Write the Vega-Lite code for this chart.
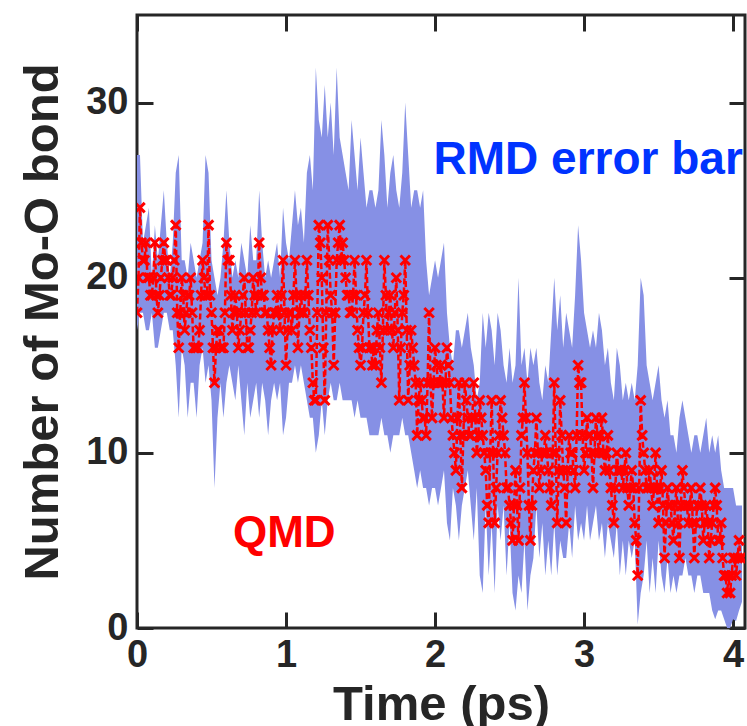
{
  "$schema": "https://vega.github.io/schema/vega-lite/v6.json",
  "width": 608,
  "height": 613,
  "autosize": {"type": "none"},
  "padding": {"left": 137, "top": 15, "right": 2, "bottom": 98},
  "background": "white",
  "config": {
    "view": {"stroke": "#262626", "strokeWidth": 3},
    "axis": {
      "labelFont": "Liberation Sans", "labelFontWeight": "bold", "labelFontSize": 38, "labelColor": "#262626",
      "titleFont": "Liberation Sans", "titleFontWeight": "bold", "titleFontSize": 49, "titleColor": "#262626",
      "tickColor": "#262626", "tickWidth": 3, "tickSize": -16, "domain": false, "grid": false,
      "labelOverlap": false, "labelFlush": false, "zindex": 1
    }
  },
  "datasets": {
    "rmd": [
      {"t":0.00,"lo":17,"hi":27},{"t":0.02,"lo":18,"hi":27},{"t":0.04,"lo":18,"hi":22},{"t":0.06,"lo":17,"hi":23},{"t":0.08,"lo":17,"hi":24},
      {"t":0.10,"lo":18,"hi":20},{"t":0.12,"lo":16,"hi":23},{"t":0.14,"lo":16,"hi":21},{"t":0.16,"lo":17,"hi":23},{"t":0.18,"lo":18,"hi":25},
      {"t":0.20,"lo":18,"hi":22},{"t":0.22,"lo":17,"hi":20},{"t":0.24,"lo":17,"hi":22},{"t":0.26,"lo":15,"hi":26},{"t":0.28,"lo":12,"hi":27},
      {"t":0.30,"lo":16,"hi":21},{"t":0.32,"lo":15,"hi":21},{"t":0.34,"lo":12,"hi":20},{"t":0.36,"lo":14,"hi":22},{"t":0.38,"lo":14,"hi":21},
      {"t":0.40,"lo":12,"hi":20},{"t":0.42,"lo":15,"hi":21},{"t":0.44,"lo":16,"hi":22},{"t":0.46,"lo":14,"hi":27},{"t":0.48,"lo":15,"hi":26},
      {"t":0.50,"lo":13,"hi":21},{"t":0.52,"lo":8,"hi":20},{"t":0.54,"lo":12,"hi":19},{"t":0.56,"lo":14,"hi":20},{"t":0.58,"lo":12,"hi":22},
      {"t":0.60,"lo":14,"hi":25},{"t":0.62,"lo":15,"hi":22},{"t":0.64,"lo":14,"hi":20},{"t":0.66,"lo":13,"hi":21},{"t":0.68,"lo":15,"hi":20},
      {"t":0.70,"lo":13,"hi":22},{"t":0.72,"lo":11,"hi":21},{"t":0.74,"lo":14,"hi":20},{"t":0.76,"lo":12,"hi":23},{"t":0.78,"lo":13,"hi":21},
      {"t":0.80,"lo":14,"hi":21},{"t":0.82,"lo":12,"hi":25},{"t":0.84,"lo":14,"hi":22},{"t":0.86,"lo":13,"hi":20},{"t":0.88,"lo":11,"hi":21},
      {"t":0.90,"lo":13,"hi":20},{"t":0.92,"lo":14,"hi":21},{"t":0.94,"lo":13,"hi":22},{"t":0.96,"lo":14,"hi":20},{"t":0.98,"lo":11,"hi":24},
      {"t":1.00,"lo":12,"hi":22},{"t":1.02,"lo":14,"hi":21},{"t":1.04,"lo":14,"hi":23},{"t":1.06,"lo":15,"hi":25},{"t":1.08,"lo":14,"hi":23},
      {"t":1.10,"lo":15,"hi":24},{"t":1.12,"lo":14,"hi":22},{"t":1.14,"lo":13,"hi":26},{"t":1.16,"lo":12,"hi":27},{"t":1.18,"lo":12,"hi":25},
      {"t":1.20,"lo":10,"hi":32},{"t":1.22,"lo":11,"hi":29},{"t":1.24,"lo":13,"hi":28},{"t":1.26,"lo":11,"hi":31},{"t":1.28,"lo":13,"hi":28},
      {"t":1.30,"lo":14,"hi":30},{"t":1.32,"lo":13,"hi":27},{"t":1.34,"lo":13,"hi":32},{"t":1.36,"lo":14,"hi":28},{"t":1.38,"lo":13,"hi":27},
      {"t":1.40,"lo":13,"hi":26},{"t":1.42,"lo":13,"hi":25},{"t":1.44,"lo":13,"hi":29},{"t":1.46,"lo":12,"hi":27},{"t":1.48,"lo":13,"hi":25},
      {"t":1.50,"lo":12,"hi":28},{"t":1.52,"lo":12,"hi":26},{"t":1.54,"lo":12,"hi":24},{"t":1.56,"lo":11,"hi":25},{"t":1.58,"lo":11,"hi":25},
      {"t":1.60,"lo":11,"hi":24},{"t":1.62,"lo":11,"hi":25},{"t":1.64,"lo":12,"hi":29},{"t":1.66,"lo":11,"hi":27},{"t":1.68,"lo":11,"hi":24},
      {"t":1.70,"lo":10,"hi":26},{"t":1.72,"lo":11,"hi":27},{"t":1.74,"lo":11,"hi":25},{"t":1.76,"lo":11,"hi":24},{"t":1.78,"lo":12,"hi":26},
      {"t":1.80,"lo":11,"hi":30},{"t":1.82,"lo":11,"hi":27},{"t":1.84,"lo":10,"hi":24},{"t":1.86,"lo":9,"hi":25},{"t":1.88,"lo":8,"hi":25},
      {"t":1.90,"lo":9,"hi":24},{"t":1.92,"lo":8,"hi":25},{"t":1.94,"lo":8,"hi":21},{"t":1.96,"lo":7,"hi":19},{"t":1.98,"lo":8,"hi":20},
      {"t":2.00,"lo":8,"hi":21},{"t":2.02,"lo":7,"hi":20},{"t":2.04,"lo":8,"hi":21},{"t":2.06,"lo":9,"hi":22},{"t":2.08,"lo":6,"hi":18},
      {"t":2.10,"lo":5,"hi":16},{"t":2.12,"lo":8,"hi":15},{"t":2.14,"lo":7,"hi":17},{"t":2.16,"lo":5,"hi":17},{"t":2.18,"lo":7,"hi":16},
      {"t":2.20,"lo":8,"hi":17},{"t":2.22,"lo":9,"hi":18},{"t":2.24,"lo":7,"hi":16},{"t":2.26,"lo":5,"hi":15},{"t":2.28,"lo":8,"hi":13},
      {"t":2.30,"lo":3,"hi":14},{"t":2.32,"lo":2,"hi":18},{"t":2.34,"lo":7,"hi":16},{"t":2.36,"lo":3,"hi":18},{"t":2.38,"lo":6,"hi":17},
      {"t":2.40,"lo":2,"hi":15},{"t":2.42,"lo":7,"hi":18},{"t":2.44,"lo":5,"hi":17},{"t":2.46,"lo":7,"hi":15},{"t":2.48,"lo":3,"hi":14},
      {"t":2.50,"lo":6,"hi":16},{"t":2.52,"lo":2,"hi":14},{"t":2.54,"lo":1,"hi":15},{"t":2.56,"lo":3,"hi":20},{"t":2.58,"lo":2,"hi":15},
      {"t":2.60,"lo":5,"hi":16},{"t":2.62,"lo":1,"hi":14},{"t":2.64,"lo":3,"hi":16},{"t":2.66,"lo":4,"hi":15},{"t":2.68,"lo":7,"hi":16},
      {"t":2.70,"lo":4,"hi":14},{"t":2.72,"lo":6,"hi":13},{"t":2.74,"lo":3,"hi":15},{"t":2.76,"lo":5,"hi":14},{"t":2.78,"lo":3,"hi":17},
      {"t":2.80,"lo":6,"hi":20},{"t":2.82,"lo":3,"hi":17},{"t":2.84,"lo":5,"hi":19},{"t":2.86,"lo":4,"hi":16},{"t":2.88,"lo":4,"hi":18},
      {"t":2.90,"lo":6,"hi":17},{"t":2.92,"lo":4,"hi":16},{"t":2.94,"lo":7,"hi":19},{"t":2.96,"lo":5,"hi":23},{"t":2.98,"lo":6,"hi":21},
      {"t":3.00,"lo":5,"hi":18},{"t":3.02,"lo":7,"hi":17},{"t":3.04,"lo":5,"hi":16},{"t":3.06,"lo":6,"hi":17},{"t":3.08,"lo":7,"hi":16},
      {"t":3.10,"lo":5,"hi":18},{"t":3.12,"lo":6,"hi":17},{"t":3.14,"lo":4,"hi":15},{"t":3.16,"lo":6,"hi":16},{"t":3.18,"lo":5,"hi":14},
      {"t":3.20,"lo":4,"hi":13},{"t":3.22,"lo":6,"hi":16},{"t":3.24,"lo":3,"hi":15},{"t":3.26,"lo":5,"hi":13},{"t":3.28,"lo":3,"hi":14},
      {"t":3.30,"lo":5,"hi":13},{"t":3.32,"lo":4,"hi":14},{"t":3.34,"lo":5,"hi":13},{"t":3.36,"lo":0.2,"hi":15},{"t":3.38,"lo":2,"hi":20},
      {"t":3.40,"lo":3,"hi":19},{"t":3.42,"lo":5,"hi":15},{"t":3.44,"lo":2,"hi":14},{"t":3.46,"lo":4,"hi":13},{"t":3.48,"lo":2,"hi":14},
      {"t":3.50,"lo":5,"hi":15},{"t":3.52,"lo":3,"hi":13},{"t":3.54,"lo":2,"hi":12},{"t":3.56,"lo":4,"hi":13},{"t":3.58,"lo":2,"hi":11},
      {"t":3.60,"lo":3,"hi":11},{"t":3.62,"lo":2,"hi":10},{"t":3.64,"lo":3,"hi":12},{"t":3.66,"lo":3,"hi":13},{"t":3.68,"lo":4,"hi":12},
      {"t":3.70,"lo":3,"hi":11},{"t":3.72,"lo":3,"hi":10},{"t":3.74,"lo":2,"hi":11},{"t":3.76,"lo":3,"hi":11},{"t":3.78,"lo":3,"hi":10},
      {"t":3.80,"lo":2,"hi":11},{"t":3.82,"lo":2,"hi":12},{"t":3.84,"lo":2,"hi":10},{"t":3.86,"lo":1,"hi":11},{"t":3.88,"lo":0.5,"hi":10},
      {"t":3.90,"lo":1,"hi":11},{"t":3.92,"lo":1,"hi":9},{"t":3.94,"lo":0.5,"hi":8},{"t":3.96,"lo":0,"hi":8},{"t":3.98,"lo":0,"hi":8},
      {"t":4.00,"lo":0.5,"hi":8},{"t":4.02,"lo":0.4,"hi":7},{"t":4.04,"lo":1,"hi":7},{"t":4.06,"lo":1.5,"hi":7}
    ],
    "qmd": [
      {"t":0.00,"q":18},{"t":0.01,"q":20},{"t":0.02,"q":24},{"t":0.03,"q":22},{"t":0.04,"q":21},{"t":0.05,"q":21},{"t":0.06,"q":22},{"t":0.07,"q":20},{"t":0.08,"q":20},{"t":0.09,"q":19},
      {"t":0.10,"q":19},{"t":0.11,"q":20},{"t":0.12,"q":22},{"t":0.13,"q":19},{"t":0.14,"q":18},{"t":0.15,"q":19},{"t":0.16,"q":20},{"t":0.17,"q":21},{"t":0.18,"q":22},{"t":0.19,"q":21},
      {"t":0.20,"q":21},{"t":0.21,"q":20},{"t":0.22,"q":19},{"t":0.23,"q":19},{"t":0.24,"q":20},{"t":0.25,"q":21},{"t":0.26,"q":23},{"t":0.27,"q":18},{"t":0.28,"q":16},{"t":0.29,"q":18},
      {"t":0.30,"q":20},{"t":0.31,"q":19},{"t":0.32,"q":17},{"t":0.33,"q":18},{"t":0.34,"q":19},{"t":0.35,"q":19},{"t":0.36,"q":20},{"t":0.37,"q":18},{"t":0.38,"q":16},{"t":0.39,"q":16},
      {"t":0.40,"q":16},{"t":0.41,"q":16},{"t":0.42,"q":17},{"t":0.43,"q":19},{"t":0.44,"q":21},{"t":0.45,"q":20},{"t":0.46,"q":19},{"t":0.47,"q":19},{"t":0.48,"q":23},{"t":0.49,"q":19},
      {"t":0.50,"q":18},{"t":0.51,"q":16},{"t":0.52,"q":14},{"t":0.53,"q":16},{"t":0.54,"q":17},{"t":0.55,"q":17},{"t":0.56,"q":16},{"t":0.57,"q":16},{"t":0.58,"q":16},{"t":0.59,"q":18},
      {"t":0.60,"q":22},{"t":0.61,"q":21},{"t":0.62,"q":21},{"t":0.63,"q":19},{"t":0.64,"q":17},{"t":0.65,"q":18},{"t":0.66,"q":19},{"t":0.67,"q":18},{"t":0.68,"q":16},{"t":0.69,"q":17},
      {"t":0.70,"q":18},{"t":0.71,"q":19},{"t":0.72,"q":20},{"t":0.73,"q":18},{"t":0.74,"q":16},{"t":0.75,"q":16},{"t":0.76,"q":17},{"t":0.77,"q":18},{"t":0.78,"q":20},{"t":0.79,"q":19},
      {"t":0.80,"q":18},{"t":0.81,"q":19},{"t":0.82,"q":22},{"t":0.83,"q":20},{"t":0.84,"q":19},{"t":0.85,"q":19},{"t":0.86,"q":18},{"t":0.87,"q":18},{"t":0.88,"q":17},{"t":0.89,"q":16},
      {"t":0.90,"q":15},{"t":0.91,"q":17},{"t":0.92,"q":18},{"t":0.93,"q":18},{"t":0.94,"q":19},{"t":0.95,"q":18},{"t":0.96,"q":17},{"t":0.97,"q":19},{"t":0.98,"q":21},{"t":0.99,"q":18},
      {"t":1.00,"q":15},{"t":1.01,"q":17},{"t":1.02,"q":18},{"t":1.03,"q":18},{"t":1.04,"q":17},{"t":1.05,"q":19},{"t":1.06,"q":21},{"t":1.07,"q":19},{"t":1.08,"q":16},{"t":1.09,"q":18},
      {"t":1.10,"q":19},{"t":1.11,"q":18},{"t":1.12,"q":18},{"t":1.13,"q":19},{"t":1.14,"q":21},{"t":1.15,"q":19},{"t":1.16,"q":17},{"t":1.17,"q":16},{"t":1.18,"q":14},{"t":1.19,"q":13},
      {"t":1.20,"q":13},{"t":1.21,"q":18},{"t":1.22,"q":23},{"t":1.23,"q":22},{"t":1.24,"q":20},{"t":1.25,"q":16},{"t":1.26,"q":13},{"t":1.27,"q":18},{"t":1.28,"q":23},{"t":1.29,"q":21},
      {"t":1.30,"q":19},{"t":1.31,"q":18},{"t":1.32,"q":15},{"t":1.33,"q":18},{"t":1.34,"q":21},{"t":1.35,"q":22},{"t":1.36,"q":23},{"t":1.37,"q":21},{"t":1.38,"q":22},{"t":1.39,"q":21},
      {"t":1.40,"q":20},{"t":1.41,"q":19},{"t":1.42,"q":19},{"t":1.43,"q":18},{"t":1.44,"q":18},{"t":1.45,"q":19},{"t":1.46,"q":21},{"t":1.47,"q":19},{"t":1.48,"q":17},{"t":1.49,"q":16},
      {"t":1.50,"q":15},{"t":1.51,"q":16},{"t":1.52,"q":18},{"t":1.53,"q":19},{"t":1.54,"q":21},{"t":1.55,"q":18},{"t":1.56,"q":16},{"t":1.57,"q":16},{"t":1.58,"q":15},{"t":1.59,"q":16},
      {"t":1.60,"q":15},{"t":1.61,"q":17},{"t":1.62,"q":18},{"t":1.63,"q":16},{"t":1.64,"q":14},{"t":1.65,"q":17},{"t":1.66,"q":21},{"t":1.67,"q":19},{"t":1.68,"q":17},{"t":1.69,"q":18},
      {"t":1.70,"q":19},{"t":1.71,"q":17},{"t":1.72,"q":16},{"t":1.73,"q":18},{"t":1.74,"q":20},{"t":1.75,"q":17},{"t":1.76,"q":13},{"t":1.77,"q":16},{"t":1.78,"q":18},{"t":1.79,"q":19},
      {"t":1.80,"q":21},{"t":1.81,"q":17},{"t":1.82,"q":13},{"t":1.83,"q":15},{"t":1.84,"q":17},{"t":1.85,"q":16},{"t":1.86,"q":15},{"t":1.87,"q":14},{"t":1.88,"q":11},{"t":1.89,"q":13},
      {"t":1.90,"q":14},{"t":1.91,"q":13},{"t":1.92,"q":12},{"t":1.93,"q":12},{"t":1.94,"q":11},{"t":1.95,"q":14},{"t":1.96,"q":18},{"t":1.97,"q":14},{"t":1.98,"q":12},{"t":1.99,"q":14},
      {"t":2.00,"q":16},{"t":2.01,"q":15},{"t":2.02,"q":14},{"t":2.03,"q":14},{"t":2.04,"q":15},{"t":2.05,"q":14},{"t":2.06,"q":12},{"t":2.07,"q":14},{"t":2.08,"q":16},{"t":2.09,"q":15},
      {"t":2.10,"q":14},{"t":2.11,"q":12},{"t":2.12,"q":11},{"t":2.13,"q":10},{"t":2.14,"q":9},{"t":2.15,"q":12},{"t":2.16,"q":14},{"t":2.17,"q":11},{"t":2.18,"q":8},{"t":2.19,"q":11},
      {"t":2.20,"q":14},{"t":2.21,"q":13},{"t":2.22,"q":12},{"t":2.23,"q":11},{"t":2.24,"q":11},{"t":2.25,"q":12},{"t":2.26,"q":14},{"t":2.27,"q":12},{"t":2.28,"q":10},{"t":2.29,"q":11},
      {"t":2.30,"q":13},{"t":2.31,"q":12},{"t":2.32,"q":11},{"t":2.33,"q":10},{"t":2.34,"q":9},{"t":2.35,"q":7},{"t":2.36,"q":6},{"t":2.37,"q":10},{"t":2.38,"q":13},{"t":2.39,"q":10},
      {"t":2.40,"q":6},{"t":2.41,"q":8},{"t":2.42,"q":10},{"t":2.43,"q":11},{"t":2.44,"q":13},{"t":2.45,"q":12},{"t":2.46,"q":11},{"t":2.47,"q":10},{"t":2.48,"q":8},{"t":2.49,"q":8},
      {"t":2.50,"q":7},{"t":2.51,"q":6},{"t":2.52,"q":5},{"t":2.53,"q":7},{"t":2.54,"q":9},{"t":2.55,"q":7},{"t":2.56,"q":5},{"t":2.57,"q":8},{"t":2.58,"q":11},{"t":2.59,"q":12},
      {"t":2.60,"q":14},{"t":2.61,"q":12},{"t":2.62,"q":10},{"t":2.63,"q":7},{"t":2.64,"q":5},{"t":2.65,"q":7},{"t":2.66,"q":9},{"t":2.67,"q":10},{"t":2.68,"q":12},{"t":2.69,"q":10},
      {"t":2.70,"q":8},{"t":2.71,"q":9},{"t":2.72,"q":10},{"t":2.73,"q":10},{"t":2.74,"q":11},{"t":2.75,"q":10},{"t":2.76,"q":9},{"t":2.77,"q":8},{"t":2.78,"q":7},{"t":2.79,"q":10},
      {"t":2.80,"q":14},{"t":2.81,"q":10},{"t":2.82,"q":6},{"t":2.83,"q":9},{"t":2.84,"q":13},{"t":2.85,"q":11},{"t":2.86,"q":9},{"t":2.87,"q":8},{"t":2.88,"q":6},{"t":2.89,"q":9},
      {"t":2.90,"q":11},{"t":2.91,"q":10},{"t":2.92,"q":10},{"t":2.93,"q":9},{"t":2.94,"q":8},{"t":2.95,"q":11},{"t":2.96,"q":15},{"t":2.97,"q":14},{"t":2.98,"q":14},{"t":2.99,"q":11},
      {"t":3.00,"q":9},{"t":3.01,"q":10},{"t":3.02,"q":12},{"t":3.03,"q":11},{"t":3.04,"q":11},{"t":3.05,"q":10},{"t":3.06,"q":8},{"t":3.07,"q":10},{"t":3.08,"q":12},{"t":3.09,"q":11},
      {"t":3.10,"q":10},{"t":3.11,"q":11},{"t":3.12,"q":12},{"t":3.13,"q":10},{"t":3.14,"q":9},{"t":3.15,"q":10},{"t":3.16,"q":11},{"t":3.17,"q":9},{"t":3.18,"q":8},{"t":3.19,"q":7},
      {"t":3.20,"q":6},{"t":3.21,"q":8},{"t":3.22,"q":10},{"t":3.23,"q":9},{"t":3.24,"q":9},{"t":3.25,"q":9},{"t":3.26,"q":8},{"t":3.27,"q":9},{"t":3.28,"q":10},{"t":3.29,"q":8},
      {"t":3.30,"q":7},{"t":3.31,"q":8},{"t":3.32,"q":9},{"t":3.33,"q":8},{"t":3.34,"q":6},{"t":3.35,"q":5},{"t":3.36,"q":3},{"t":3.37,"q":8},{"t":3.38,"q":13},{"t":3.39,"q":11},
      {"t":3.40,"q":10},{"t":3.41,"q":9},{"t":3.42,"q":8},{"t":3.43,"q":8},{"t":3.44,"q":9},{"t":3.45,"q":8},{"t":3.46,"q":7},{"t":3.47,"q":8},{"t":3.48,"q":10},{"t":3.49,"q":8},
      {"t":3.50,"q":6},{"t":3.51,"q":8},{"t":3.52,"q":9},{"t":3.53,"q":7},{"t":3.54,"q":4},{"t":3.55,"q":6},{"t":3.56,"q":8},{"t":3.57,"q":7},{"t":3.58,"q":7},{"t":3.59,"q":6},
      {"t":3.60,"q":5},{"t":3.61,"q":7},{"t":3.62,"q":8},{"t":3.63,"q":6},{"t":3.64,"q":4},{"t":3.65,"q":7},{"t":3.66,"q":9},{"t":3.67,"q":8},{"t":3.68,"q":7},{"t":3.69,"q":7},
      {"t":3.70,"q":6},{"t":3.71,"q":7},{"t":3.72,"q":8},{"t":3.73,"q":6},{"t":3.74,"q":4},{"t":3.75,"q":6},{"t":3.76,"q":7},{"t":3.77,"q":7},{"t":3.78,"q":8},{"t":3.79,"q":7},
      {"t":3.80,"q":5},{"t":3.81,"q":6},{"t":3.82,"q":7},{"t":3.83,"q":6},{"t":3.84,"q":4},{"t":3.85,"q":5},{"t":3.86,"q":6},{"t":3.87,"q":7},{"t":3.88,"q":8},{"t":3.89,"q":7},
      {"t":3.90,"q":5},{"t":3.91,"q":5},{"t":3.92,"q":6},{"t":3.93,"q":4},{"t":3.94,"q":3},{"t":3.95,"q":3},{"t":3.96,"q":2},{"t":3.97,"q":3},{"t":3.98,"q":2},{"t":3.99,"q":3},
      {"t":4.00,"q":4},{"t":4.01,"q":4},{"t":4.02,"q":3},{"t":4.03,"q":4},{"t":4.04,"q":5},{"t":4.05,"q":4},{"t":4.06,"q":4}
    ],
    "notes": [
      {"t": 1.99, "v": 25.9, "label": "RMD error bar"},
      {"t": 0.644, "v": 4.6, "label": "QMD"}
    ]
  },
  "layer": [
    {
      "data": {"name": "rmd"},
      "mark": {"type": "area", "color": "#8690E5", "opacity": 1, "clip": true},
      "encoding": {
        "x": {"field": "t", "type": "quantitative", "scale": {"domain": [0, 4.08], "nice": false},
              "axis": {"orient": "bottom", "values": [0, 1, 2, 3, 4], "title": "Time (ps)", "labelPadding": 24, "titlePadding": 6}},
        "y": {"field": "lo", "type": "quantitative", "scale": {"domain": [0, 35], "nice": false},
              "axis": {"orient": "left", "values": [0, 10, 20, 30], "title": "Number of Mo-O bond", "labelPadding": 25, "titlePadding": 18}},
        "y2": {"field": "hi"}
      }
    },
    {
      "data": {"name": "qmd"},
      "mark": {"type": "line", "color": "#FF0000", "strokeWidth": 2.5, "strokeDash": [6, 3], "clip": true},
      "encoding": {
        "x": {"field": "t", "type": "quantitative", "axis": {"orient": "top", "values": [0, 1, 2, 3, 4], "labels": false, "title": null}},
        "y": {"field": "q", "type": "quantitative", "axis": {"orient": "right", "values": [0, 10, 20, 30], "labels": false, "title": null}}
      }
    },
    {
      "data": {"name": "qmd"},
      "mark": {"type": "point", "shape": "M-1,-1L1,1M-1,1L1,-1", "filled": false, "color": "#FF0000", "strokeWidth": 3, "size": 90, "opacity": 1, "clip": true},
      "encoding": {
        "x": {"field": "t", "type": "quantitative", "axis": null},
        "y": {"field": "q", "type": "quantitative", "axis": null}
      }
    },
    {
      "data": {"name": "notes"},
      "transform": [{"filter": "datum.label === 'RMD error bar'"}],
      "mark": {"type": "text", "align": "left", "baseline": "alphabetic", "font": "Liberation Sans", "fontWeight": "bold", "fontSize": 46, "color": "#0033FF"},
      "encoding": {
        "x": {"field": "t", "type": "quantitative", "axis": null},
        "y": {"field": "v", "type": "quantitative", "axis": null},
        "text": {"field": "label"}
      }
    },
    {
      "data": {"name": "notes"},
      "transform": [{"filter": "datum.label === 'QMD'"}],
      "mark": {"type": "text", "align": "left", "baseline": "alphabetic", "font": "Liberation Sans", "fontWeight": "bold", "fontSize": 44, "color": "#FF0000"},
      "encoding": {
        "x": {"field": "t", "type": "quantitative", "axis": null},
        "y": {"field": "v", "type": "quantitative", "axis": null},
        "text": {"field": "label"}
      }
    }
  ],
  "resolve": {"axis": {"x": "independent", "y": "independent"}}
}
